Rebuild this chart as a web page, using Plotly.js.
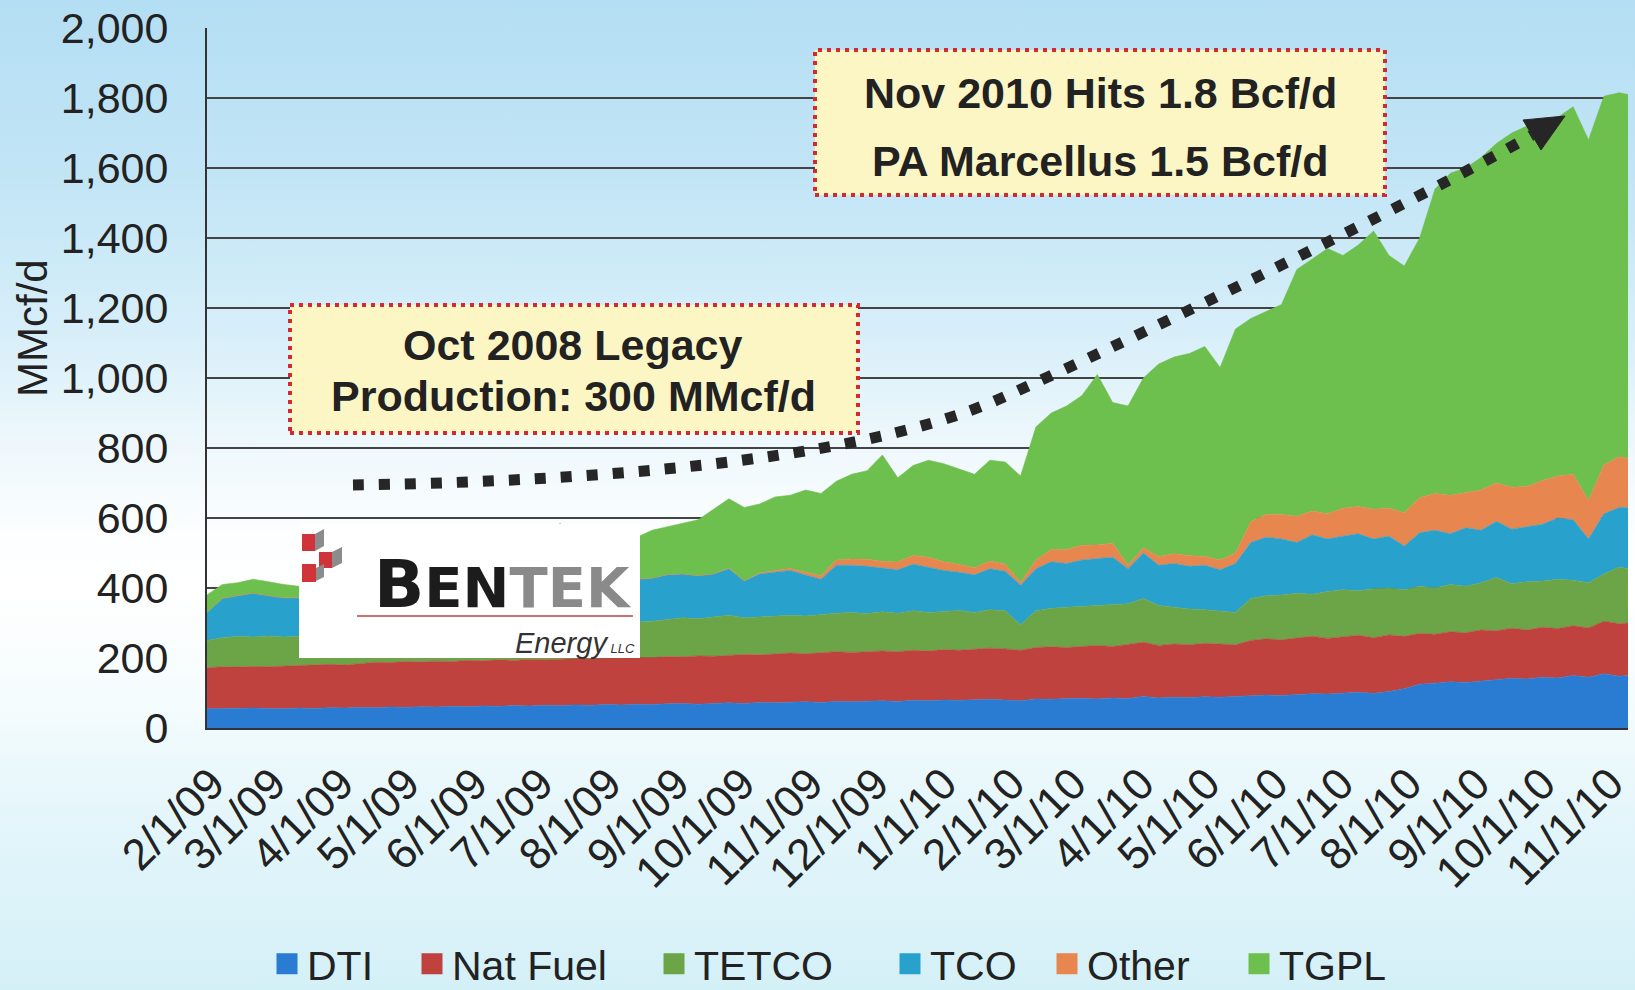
<!DOCTYPE html>
<html>
<head>
<meta charset="utf-8">
<script src="https://cdn.plot.ly/plotly-3.0.1.min.js"></script>
<style>
html,body{margin:0;padding:0;}
body{width:1635px;height:990px;overflow:hidden;
background:linear-gradient(180deg,#b4def3 0%,#c2e5f6 18%,#d6eef9 33%,#eef8fc 45%,#fcfeff 54%,#ffffff 60%,#f3fbfd 72%,#e2f5fa 84%,#d4f0f7 100%);}
#chart{width:1635px;height:990px;}
</style>
</head>
<body>
<div id="chart"></div>
<script>
// ---------- data (MMcf/d, weekly readings from 1/30/09, last reading 11/9/10) ----------
const seriesNames = ['DTI', 'Nat Fuel', 'TETCO', 'TCO', 'Other', 'TGPL'];
const yTickVals = [0, 200, 400, 600, 800, 1000, 1200, 1400, 1600, 1800, 2000];

const dti = [55,56,55,57,56,55,57,56,58,57,
  59,58,60,59,61,60,62,61,63,62,
  64,63,65,64,66,65,67,66,68,67,
  69,70,68,71,72,70,73,72,74,75,
  73,76,75,77,78,76,79,78,80,79,
  81,82,80,78,83,82,84,85,83,86,
  84,90,86,88,87,89,88,90,92,94,
  93,96,98,97,100,102,99,104,112,125,
  128,132,130,135,138,142,140,145,143,150,
  145,155,148,150];
const natFuel = [117,119,119,119,119,122,121,124,124,123,
  126,130,127,131,128,131,128,132,129,133,
  129,133,130,133,132,132,133,133,134,134,
  135,133,138,134,136,140,136,140,140,137,
  142,142,141,142,142,142,143,142,144,143,
  144,146,146,144,147,150,146,149,153,147,
  154,155,150,152,151,153,152,148,158,161,
  159,162,164,159,160,163,159,162,150,145,
  140,143,142,145,140,143,140,143,141,142,
  141,150,150,150];
const tetco = [78,83,88,84,88,83,84,85,81,88,
  81,82,85,85,84,87,90,89,93,88,
  95,94,97,98,95,100,98,101,100,104,
  106,112,106,113,114,105,109,108,108,108,
  110,110,114,108,112,110,113,110,109,114,
  105,110,109,73,105,110,115,114,114,119,
  117,125,114,105,102,96,95,92,120,123,
  128,127,120,134,135,127,140,134,133,135,
  132,135,133,135,152,127,138,132,141,130,
  129,135,162,155];
const tco = [80,112,116,125,115,112,110,115,115,117,
  116,118,113,115,119,117,113,116,115,115,
  117,113,116,115,119,118,120,120,123,123,
  128,125,123,122,133,105,122,125,128,117,
  100,137,135,135,126,124,133,130,117,109,
  108,117,113,113,120,133,125,132,135,136,
  100,130,115,125,122,127,117,140,160,167,
  160,145,170,150,153,163,142,148,125,153,
  165,145,167,150,160,156,157,162,175,173,
  125,172,170,175];
const other = [0,0,0,0,0,0,0,0,0,0,
  0,0,0,0,0,0,0,0,0,0,
  0,0,0,0,0,0,0,0,0,0,
  0,0,0,0,2,0,3,5,6,8,
  10,15,18,20,18,22,25,28,25,22,
  20,22,20,8,25,35,40,42,38,40,
  10,15,25,28,30,25,28,30,60,65,
  70,75,68,72,80,78,85,80,95,100,
  105,110,100,115,110,120,115,125,120,130,
  110,140,145,140];
const tgpl = [50,40,37,40,40,38,33,40,37,45,
  43,52,50,60,53,65,62,72,75,72,
  85,82,92,175,93,100,102,110,120,137,
  137,145,160,185,198,210,197,210,209,235,
  235,225,242,253,304,241,257,277,280,273,
  267,288,292,304,380,390,410,428,487,402,
  455,485,550,562,578,600,550,640,580,580,
  600,705,720,758,722,747,795,722,705,742,
  870,920,928,950,970,1012,1030,993,1025,1050,
  1030,1053,1040,1040];

// category dates: weekly readings, plus the final reading at the right edge
const lastReadingDate = '2010-11-09';
const weekDates = [];
for (let i = 0; i < dti.length - 1; i++) {
  const d = new Date(Date.UTC(2009, 0, 30 + 7 * i));
  weekDates.push(d.toISOString().slice(0, 10));
}
weekDates.push(lastReadingDate);

// ---------- styles ----------
const seriesColors = ['#2a7cd2', '#bf423e', '#6ba548', '#29a1cd', '#e8864f', '#6dbf4e'];
const FONT = 'Liberation Sans, Arial, Helvetica, sans-serif';
const W = 1635, H = 990;
const M = {l: 207, r: 7, t: 28, b: 262};
const PW = W - M.l - M.r, PH = H - M.t - M.b;
const PX = px => (px - M.l) / PW;
const PY = py => (M.t + PH - py) / PH;
const f = v => v.toFixed(5);
const pt = (x, y) => f(PX(x)) + ',' + f(PY(y));

const seriesValues = [dti, natFuel, tetco, tco, other, tgpl];
const traces = seriesValues.map((vals, k) => ({
  type: 'scatter', mode: 'lines', x: weekDates, y: vals,
  stackgroup: 'one', name: seriesNames[k],
  line: {width: 0.6, color: seriesColors[k]},
  fillcolor: seriesColors[k], showlegend: false, hoverinfo: 'skip'
}));

// legend entries (square swatches), one small legend per item
const legendCenters = [287, 432, 674, 910, 1067, 1259];
const legendTraces = seriesNames.map((n, k) => ({
  type: 'scatter', mode: 'markers', x: [null], y: [null], name: n,
  marker: {symbol: 'square', size: 16, color: seriesColors[k], line: {width: 5, color: seriesColors[k]}},
  showlegend: true, legend: k === 0 ? 'legend' : 'legend' + (k + 1), hoverinfo: 'skip'
}));

const layout = {
  width: W, height: H,
  margin: {l: M.l, r: M.r, t: M.t, b: M.b, pad: 0, autoexpand: false},
  paper_bgcolor: 'rgba(0,0,0,0)', plot_bgcolor: 'rgba(0,0,0,0)',
  font: {family: FONT, color: '#222'},
  xaxis: {
    type: 'date', range: [weekDates[0], weekDates[weekDates.length - 1]],
    tickmode: 'linear', tick0: '2009-02-01', dtick: 'M1', tickformat: '%-m/%-d/%y',
    tickangle: -45, tickfont: {size: 44, color: '#222', family: FONT},
    ticklabeloverflow: 'allow',
    showgrid: false, showline: true, linecolor: '#333', linewidth: 2,
    ticks: '', ticklabelstandoff: 10, zeroline: false, automargin: false, fixedrange: true
  },
  yaxis: {
    range: [0, 2000], tickmode: 'array', tickvals: yTickVals, tickformat: ',d',
    tickfont: {size: 43, color: '#222', family: FONT},
    showgrid: true, gridcolor: '#444', gridwidth: 1.6,
    showline: true, linecolor: '#333', linewidth: 2,
    ticks: '', ticklabelstandoff: 28, zeroline: false, automargin: false, fixedrange: true
  },
  shapes: [],
  annotations: []
};

// legends
legendCenters.forEach((c, k) => {
  const key = k === 0 ? 'legend' : 'legend' + (k + 1);
  layout[key] = {
    xref: 'container', yref: 'container', x: (c - 20) / W, y: 1 - 964 / H,
    xanchor: 'left', yanchor: 'middle', orientation: 'h',
    bgcolor: 'rgba(0,0,0,0)', borderwidth: 0, itemwidth: 30,
    font: {size: 41, color: '#222', family: FONT}
  };
});

// y axis title placed like the reference
layout.annotations.push({
  text: 'MMcf/d', xref: 'paper', yref: 'paper', x: PX(32), y: PY(328),
  textangle: -90, showarrow: false, xanchor: 'center', yanchor: 'middle',
  font: {size: 42, color: '#222', family: FONT}
});

// callout boxes
const boxFill = '#fcf6c4', boxLine = {color: '#d42a2e', width: 4, dash: '4px,5px'};
layout.shapes.push({type: 'rect', xref: 'paper', yref: 'paper', x0: PX(290), x1: PX(858), y0: PY(433), y1: PY(305),
  fillcolor: boxFill, line: boxLine, layer: 'above'});
layout.shapes.push({type: 'rect', xref: 'paper', yref: 'paper', x0: PX(815), x1: PX(1385), y0: PY(195), y1: PY(50),
  fillcolor: boxFill, line: boxLine, layer: 'above'});
const calloutLines = [
  ['Oct 2008 Legacy', 573, 345],
  ['Production: 300 MMcf/d', 573, 396],
  ['Nov 2010 Hits 1.8 Bcf/d', 1100, 93],
  ['PA Marcellus 1.5 Bcf/d', 1100, 161]
];
calloutLines.forEach(([t, x, y]) => layout.annotations.push({
  text: t, xref: 'paper', yref: 'paper', x: PX(x), y: PY(y), showarrow: false,
  xanchor: 'center', yanchor: 'middle',
  font: {size: 43, color: '#222', family: FONT, weight: 700}
}));

// dotted growth arrow
const arrowPath = 'M' + pt(353, 485) + ' C' + pt(560, 482) + ' ' + pt(847, 465) + ' ' + pt(997, 400) +
  ' C' + pt(1100, 355) + ' ' + pt(1420, 200) + ' ' + pt(1532, 135);
layout.shapes.push({type: 'path', xref: 'paper', yref: 'paper', path: arrowPath,
  line: {color: '#262626', width: 11, dash: '11px,15px'}, layer: 'above'});
layout.shapes.push({type: 'path', xref: 'paper', yref: 'paper',
  path: 'M' + pt(1565, 116) + ' L' + pt(1541, 150) + ' L' + pt(1532, 135) + ' L' + pt(1523, 120) + ' Z',
  fillcolor: '#262626', line: {color: '#262626', width: 1}, layer: 'above'});

// logo block
layout.shapes.push({type: 'rect', xref: 'paper', yref: 'paper', x0: PX(299), x1: PX(640), y0: PY(658), y1: PY(524),
  fillcolor: '#ffffff', line: {width: 0}, layer: 'above'});
const red = '#d0343a', gray = '#8c8c8c';
const poly = (pts, c) => layout.shapes.push({type: 'path', xref: 'paper', yref: 'paper',
  path: 'M' + pts.map(p => pt(p[0], p[1])).join(' L') + ' Z', fillcolor: c, line: {width: 0}, layer: 'above'});
poly([[302, 534], [315, 534], [315, 551], [302, 551]], red);
poly([[315, 534], [324, 529], [324, 546], [315, 551]], gray);
poly([[319, 552], [332, 552], [332, 568], [319, 568]], red);
poly([[332, 552], [342, 547], [342, 563], [332, 568]], gray);
poly([[302, 564], [316, 564], [316, 582], [302, 582]], red);
poly([[316, 568], [324, 564], [324, 577], [316, 581]], gray);
layout.shapes.push({type: 'line', xref: 'paper', yref: 'paper', x0: PX(357), x1: PX(633), y0: PY(616), y1: PY(616),
  line: {color: '#c9716e', width: 2}, layer: 'above'});
layout.annotations.push({
  text: '<span style="color:#1c1c1c;font-size:66px">B</span><span style="color:#1c1c1c">EN</span>' +
        '<span style="color:#8a8a8a">TEK</span>',
  xref: 'paper', yref: 'paper', x: PX(633), y: PY(624), showarrow: false, xanchor: 'right', yanchor: 'bottom',
  borderpad: 0,
  font: {size: 56, family: 'DejaVu Sans, Liberation Sans, sans-serif', weight: 700}
});
layout.annotations.push({
  text: '<i>Energy</i><span style="font-size:13px"><i> LLC</i></span>',
  xref: 'paper', yref: 'paper', x: PX(636), y: PY(626), showarrow: false, xanchor: 'right', yanchor: 'top',
  borderpad: 0,
  font: {size: 29, color: '#333', family: FONT}
});

Plotly.newPlot('chart', traces.concat(legendTraces), layout, {displayModeBar: false, staticPlot: true});
</script>
</body>
</html>
